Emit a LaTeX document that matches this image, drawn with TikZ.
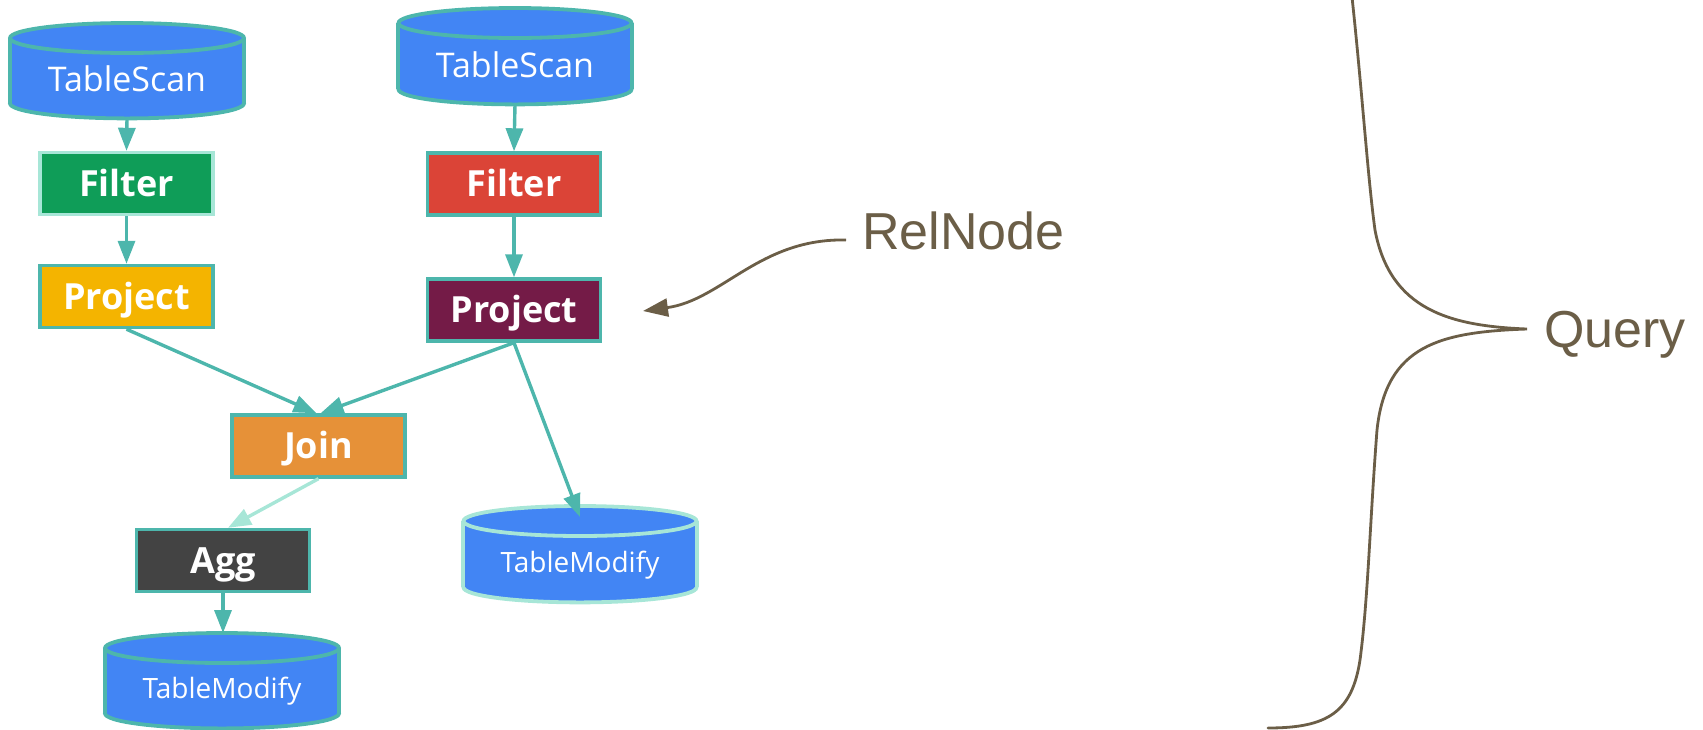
\documentclass[tikz,border=0pt]{standalone}
\usepackage{fontspec}
\newfontfamily\osans{Open Sans}
\newfontfamily\lsans{Liberation Sans}
\usetikzlibrary{arrows.meta}
\definecolor{teal1}{HTML}{4DB6AC}
\definecolor{mint}{HTML}{A7E6D7}
\definecolor{dbblue}{HTML}{4285F4}
\definecolor{ggreen}{HTML}{0F9D58}
\definecolor{gred}{HTML}{DB4437}
\definecolor{gyellow}{HTML}{F4B400}
\definecolor{maroonx}{HTML}{741B47}
\definecolor{jorange}{HTML}{E69138}
\definecolor{dgray}{HTML}{434343}
\definecolor{brownx}{HTML}{6B5E47}
% cylinder: #1 name, #2 cx, #3 top y, #4 width, #5 height, #6 border colour
\newcommand\dbcyl[6]{%
  \pgfmathsetmacro\hw{#4/2}%
  \node[draw=none, minimum width=#4pt, minimum height=#5pt, inner sep=0pt, anchor=north] (#1) at (#2,#3) {};
  \filldraw[fill=dbblue, draw=#6, line width=3.8pt] ([yshift=15pt]#1.south) ellipse [x radius=\hw pt, y radius=15pt];
  \fill[dbblue] ([yshift=15pt]#1.south west) rectangle ([yshift=-15pt]#1.north east);
  \draw[#6, line width=3.8pt] ([yshift=15pt]#1.south west) -- ([yshift=-15pt]#1.north west)
        ([yshift=15pt]#1.south east) -- ([yshift=-15pt]#1.north east);
  \filldraw[fill=dbblue, draw=#6, line width=3.8pt] ([yshift=-15pt]#1.north) ellipse [x radius=\hw pt, y radius=15pt];
}
\begin{document}
\begin{tikzpicture}[x=1pt,y=-1pt,
  opbox/.style={draw=teal1, line width=3.4pt, minimum width=173pt, minimum height=62pt,
     inner sep=0pt, text=white, font=\osans\bfseries\fontsize{36}{40}\selectfont,
     text height=25.7pt, text depth=0pt},
  scantext/.style={text=white, inner sep=0pt, font=\osans\fontsize{34}{40}\selectfont,
     text height=24.3pt, text depth=0pt},
  modtext/.style={text=white, inner sep=0pt, font=\osans\fontsize{28}{32}\selectfont,
     text height=20pt, text depth=0pt},
  conn/.style={draw=teal1, line width=3.4pt, -{Triangle[length=23pt,width=17pt]}},
  lightconn/.style={conn, draw=mint},
  note/.style={text=brownx, inner sep=0pt, font=\lsans\fontsize{52}{60}\selectfont},
  notearrow/.style={draw=brownx, line width=2.8pt, -{Triangle[length=25pt,width=18pt]}}
]
\useasboundingbox (0,0) rectangle (1703,729);

% cylinders
\dbcyl{tsl}{127}{23}{234}{95}{teal1}
\dbcyl{tsr}{515}{8}{233}{96}{teal1}
\dbcyl{tml}{222}{633}{234}{95}{teal1}
\dbcyl{tmr}{580}{506}{233}{96}{mint}
\node[scantext] (tslt) at (127,79) {TableScan};
\node[scantext] (tsrt) at (515,65) {TableScan};
\node[modtext] (tmlt) at (222,688) {TableModify};
\node[modtext] (tmrt) at (580,562) {TableModify};

% operator boxes
\node[opbox, fill=ggreen, draw=mint] (fl) at (126.5,183.5) {Filter};
\node[opbox, fill=gyellow] (pl) at (126.5,296.5) {Project};
\node[opbox, fill=gred] (fr) at (514,184) {Filter};
\node[opbox, fill=maroonx] (pr) at (514,310) {Project};
\node[opbox, fill=jorange] (join) at (318.5,446) {Join};
\node[opbox, fill=dgray] (agg) at (223,560.5) {Agg};

% connectors
\draw[conn] (tsl.south) -- (fl.north);
\draw[conn] (tsr.south) -- (fr.north);
\draw[conn] (fl.south) -- (pl.north);
\draw[conn] (fr.south) -- (pr.north);
\draw[conn] (pl.south) -- ([xshift=-2pt]join.north);
\draw[conn] (pr.south) -- ([xshift=2pt]join.north);
\draw[conn] (pr.south) -- ([yshift=-11pt]tmr.north);
\draw[lightconn] (join.south) -- ([xshift=5pt]agg.north);
\draw[conn] (agg.south) -- (agg.south |- tml.north);

% RelNode annotation
\node[note, anchor=base west] (rel) at (862,249) {RelNode};
\coordinate (relstart) at (846,240);
\coordinate (reltip) at (643,311);
\draw[notearrow] (relstart) .. controls (760,238) and (722,300) .. (reltip);

% Query brace
\node[note, anchor=base west] (query) at (1544,347) {Query};
\coordinate (bracetip) at (1527,329);
\draw[brownx, line width=2.8pt, line cap=round]
  (1352,-3) .. controls (1362,90) and (1368,180) .. (1375,230)
  .. controls (1390,310) and (1450,326) .. (bracetip)
  .. controls (1440,332) and (1386,345) .. (1377,430)
  .. controls (1370,520) and (1368,600) .. (1360,660)
  .. controls (1352,712) and (1328,728) .. (1268,728);
\end{tikzpicture}
\end{document}
